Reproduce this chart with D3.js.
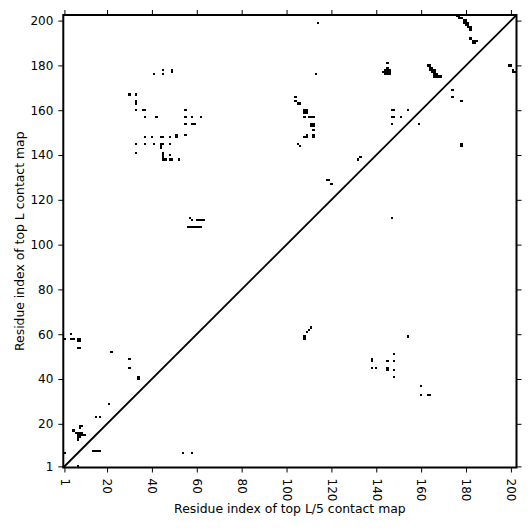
<!DOCTYPE html>
<html>
<head>
<meta charset="utf-8">
<script src="https://cdn.jsdelivr.net/npm/d3@7"></script>
<style>
html,body{margin:0;padding:0;background:#fff;}
svg{display:block;}
text{font-family:"DejaVu Sans",sans-serif;fill:#000;}
</style>
</head>
<body>
<script>
// Residue range
const residueMax = 202;
const tickValues = [1,20,40,60,80,100,120,140,160,180,200];
const xTitle = "Residue index of top L/5 contact map";
const yTitle = "Residue index of top L contact map";

// Contacts of the top L map (upper-left triangle): [residue i, residue j]
const topLContacts = [
  [30,167],[33,167],[33,164],[33,163],[33,160],[36,160],[37,160],
  [37,157],[42,157],[55,160],[55,157],[58,157],[62,157],
  [55,154],[58,154],[59,154],[55,149],
  [37,148],[40,148],[44,148],[45,148],[48,148],[51,148],[51,149],
  [33,145],[37,145],[41,145],[44,145],[45,145],[44,144],[44,143],[48,145],
  [33,141],[45,141],[45,140],[45,139],[48,140],
  [45,138],[46,138],[48,138],[49,138],[52,138],
  [41,176],[45,178],[45,176],[49,177],[49,178],
  [57,112],[58,111],[60,111],[61,111],[62,111],[63,111],
  [56,108],[57,108],[58,108],[59,108],[60,108],[61,108],[62,108],
  [4,60],[4,58],[5,58],[1,58],[7,58],[8,58],[7,57],[8,57],[7,54],[8,54],
  [22,52],[30,49],[30,45],[34,41],[34,40],[21,29],[15,23],[17,23],
  [8,19],[9,19],[8,18],[5,17],[6,16],[7,16],[8,16],[9,16],[7,15],[8,15],[9,15],[10,15],[7,14],[8,14],[7,13],
  [14,8],[15,8],[16,8],[17,8],[1,7],
  [114,199],[113,176],[104,166],[104,164],[105,163],[106,163],
  [108,160],[109,160],[108,159],[109,159],[108,157],[110,157],[111,157],[112,157],
  [111,154],[112,154],[111,153],[112,153],[112,151],[112,149],[112,148],
  [108,148],[109,148],[109,149],[105,145],[106,144],
  [118,129],[119,129],[120,127],[132,138],[133,139],
  [176,202],[177,202],[177,201],[178,201],[179,200],[180,200],[179,199],[180,199],[181,199],
  [180,198],[181,198],[181,197],[182,197],[182,196],
  [182,192],[183,191],[184,191],[185,191],[183,190],[184,190],
  [163,180],[164,180],[164,179],[165,179],[164,178],[165,178],[166,178],[165,177],[166,177],
  [166,176],[167,176],[166,175],[167,175],[168,175],[169,175],
  [145,181],[145,179],[144,178],[145,178],[146,178],[143,177],[144,177],[145,177],[146,177],
  [144,176],[145,176],[146,176],
  [199,180],[200,180],[201,178],[201,177],[202,177],
  [154,160],[147,160],[148,160],[147,157],[148,157],[151,157],[147,154]
];

// Contacts of the top L/5 map (lower-right triangle): [residue i, residue j]
const topL5Contacts = [
  [178,164],[174,169],[174,166],[178,145],[178,144],[159,154],[147,112],
  [108,59],[108,58],[109,61],[110,62],[111,63],[154,59],
  [138,49],[138,48],[138,45],[140,45],[145,48],[145,45],[145,44],
  [148,51],[148,48],[148,44],[148,41],[160,37],[160,33],[163,33],[164,33],
  [54,7],[58,7],[7,1]
];

const W = 531, H = 531;
const m = {left:63.3, right:531-516.5, top:15, bottom:531-467.5};

const svg = d3.select("body").append("svg").attr("width",W).attr("height",H);

const x = d3.scaleLinear().domain([0.5, residueMax+0.5]).range([m.left, W-m.right]);
const y = d3.scaleLinear().domain([0.5, residueMax+0.5]).range([H-m.bottom, m.top]);

const cells = svg.append("g");
function drawCells(data){
  cells.selectAll(null).data(data).enter().append("rect")
    .attr("x", d => x(d[0]-0.5))
    .attr("y", d => y(d[1]+0.5))
    .attr("width", d => x(d[0]+0.5)-x(d[0]-0.5))
    .attr("height", d => y(d[1]-0.5)-y(d[1]+0.5))
    .attr("fill","#000")
    .attr("shape-rendering","crispEdges");
}
drawCells(topLContacts);
drawCells(topL5Contacts);

// diagonal
svg.append("line")
  .attr("x1", x(0.5)).attr("y1", y(0.5))
  .attr("x2", x(residueMax+0.5)).attr("y2", y(residueMax+0.5))
  .attr("stroke","#000").attr("stroke-width",1.8);

// axes
const fmt = d3.format("d");
const xb = svg.append("g").attr("transform",`translate(0,${H-m.bottom})`)
  .call(d3.axisBottom(x).tickValues(tickValues).tickSize(5).tickPadding(6).tickFormat(fmt));
xb.selectAll("text")
  .attr("transform", function(){ return "rotate(90)"; })
  .attr("y", 0).attr("x", 11).attr("dy","0.35em")
  .style("text-anchor","start").style("font-size","12px");

const yl = svg.append("g").attr("transform",`translate(${m.left},0)`)
  .call(d3.axisLeft(y).tickValues(tickValues).tickSize(5).tickPadding(5).tickFormat(fmt));
yl.selectAll("text").style("font-size","12px");

svg.append("g").attr("transform",`translate(0,${m.top})`)
  .call(d3.axisTop(x).tickValues(tickValues).tickSize(5).tickFormat(""));
svg.append("g").attr("transform",`translate(${W-m.right},0)`)
  .call(d3.axisRight(y).tickValues(tickValues).tickSize(5).tickFormat(""));

svg.selectAll(".domain").remove();
svg.selectAll(".tick line").attr("stroke","#000").attr("stroke-width",1);

// frame
svg.append("rect")
  .attr("x", m.left).attr("y", m.top)
  .attr("width", W-m.right-m.left).attr("height", H-m.bottom-m.top)
  .attr("fill","none").attr("stroke","#000").attr("stroke-width",2);

// titles
svg.append("text").attr("x",(m.left+W-m.right)/2).attr("y",513)
  .attr("text-anchor","middle").style("font-size","12.4px").text(xTitle);
svg.append("text")
  .attr("transform",`translate(24,${(m.top+H-m.bottom)/2}) rotate(-90)`)
  .attr("text-anchor","middle").style("font-size","12.4px").text(yTitle);
</script>
</body>
</html>
